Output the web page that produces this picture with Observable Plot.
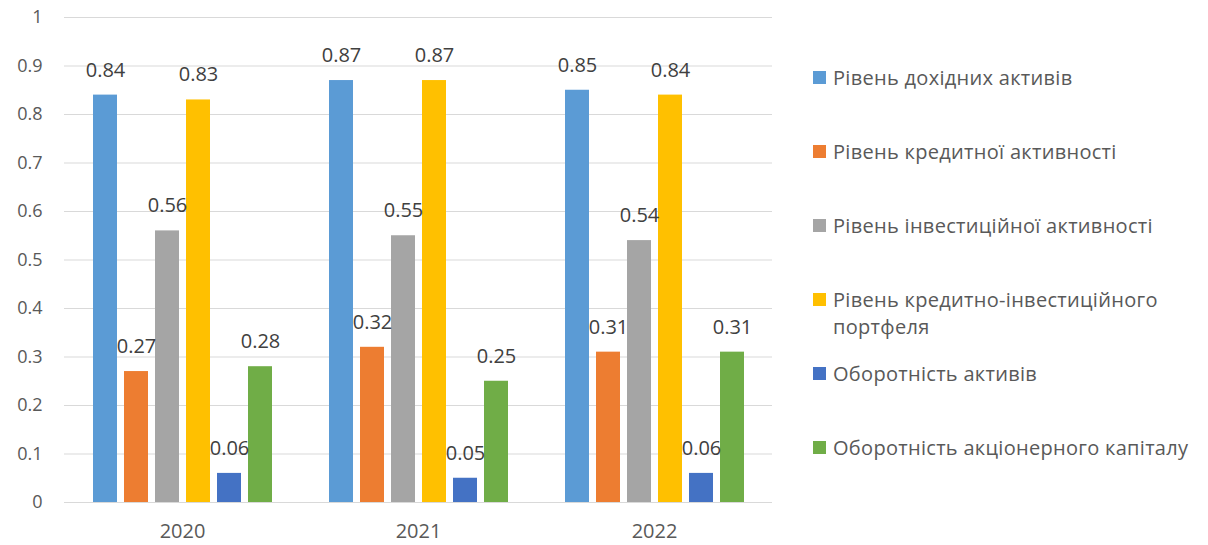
<!DOCTYPE html>
<html>
<head>
<meta charset="utf-8">
<script src="https://cdn.jsdelivr.net/npm/d3@7"></script>
<script src="https://cdn.jsdelivr.net/npm/@observablehq/plot@0.6"></script>
<style>
  html, body { margin: 0; padding: 0; background: #fff; overflow: hidden; }
  #wrap { position: relative; width: 1208px; height: 545px; font-family: "Open Sans", sans-serif; color: #595959; overflow: hidden; }
  #chart { position: absolute; left: 0; top: 0; }
  .leg { position: absolute; left: 813px; display: flex; align-items: flex-start; font-size: 20px; line-height: 27px; letter-spacing: 0.3px; }
  .sw { width: 13px; height: 13px; margin-top: 7px; margin-right: 7px; flex: none; }
  .lt { width: 385px; }
</style>
</head>
<body>
<div id="wrap"><div id="chart"></div></div>
<script>
const years = ["2020", "2021", "2022"];
const series = [
  "Рівень дохідних активів",
  "Рівень кредитної активності",
  "Рівень інвестиційної активності",
  "Рівень кредитно-інвестиційного портфеля",
  "Оборотність активів",
  "Оборотність акціонерного капіталу"
];
const colors = ["#5B9BD5", "#ED7D31", "#A5A5A5", "#FFC000", "#4472C4", "#70AD47"];
const values2020 = [0.84, 0.27, 0.56, 0.83, 0.06, 0.28];
const values2021 = [0.87, 0.32, 0.55, 0.87, 0.05, 0.25];
const values2022 = [0.85, 0.31, 0.54, 0.84, 0.06, 0.31];
const yTicks = [0, 0.1, 0.2, 0.3, 0.4, 0.5, 0.6, 0.7, 0.8, 0.9, 1];

const byYear = [values2020, values2021, values2022];
const data = [];
years.forEach((yr, i) => series.forEach((s, j) => data.push({year: yr, series: s, value: byYear[i][j]})));

const chart = Plot.plot({
  width: 790,
  height: 545,
  marginLeft: 63,
  marginRight: 18,
  marginTop: 17,
  marginBottom: 43,
  style: {fontFamily: "Open Sans, sans-serif", fontSize: "18px", color: "#595959", background: "white"},
  fx: {domain: years, padding: 0, label: null},
  x: {domain: series, paddingInner: 0.24, paddingOuter: 0.865, align: 0.5, axis: null},
  y: {domain: [0, 1], axis: null},
  color: {domain: series, range: colors},
  marks: [
    Plot.gridY(yTicks, {stroke: "#d9d9d9", strokeOpacity: 1, strokeWidth: 1}),
    Plot.axisY(yTicks, {tickSize: 0, tickPadding: 22, tickFormat: d3.format("~g"), fontSize: 18, label: null, fill: "#595959"}),
    Plot.barY(data, {fx: "year", x: "series", y: "value", fill: "series"}),
    Plot.text(data, {fx: "year", x: "series", y: "value", text: d => d3.format("~g")(d.value), dy: -25, fontSize: 20, fill: "#404040"}),
    Plot.axisFx({anchor: "bottom", tickSize: 0, tickPadding: 21, fontSize: 20, label: null, fill: "#595959"})
  ]
});
document.getElementById("chart").appendChild(chart);

const legendCenters = [77, 151, 225, 299, 373, 447];
const wrap = document.getElementById("wrap");
series.forEach((s, i) => {
  const item = document.createElement("div");
  item.className = "leg";
  item.style.top = (legendCenters[i] - 13.5) + "px";
  const sw = document.createElement("div");
  sw.className = "sw";
  sw.style.background = colors[i];
  const t = document.createElement("div");
  t.className = "lt";
  t.textContent = s;
  item.appendChild(sw);
  item.appendChild(t);
  wrap.appendChild(item);
});
</script>
</body>
</html>
